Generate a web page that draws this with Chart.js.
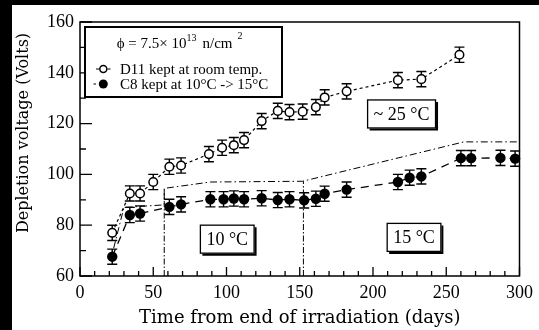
<!DOCTYPE html>
<html>
<head>
<meta charset="utf-8">
<script src="https://cdn.jsdelivr.net/npm/chart.js@4.4.0/dist/chart.umd.min.js"></script>
<style>
  html, body { margin: 0; padding: 0; background: #000; }
  #wrap { position: absolute; left: 12px; top: 5px; width: 527px; height: 325px; background: #fff; }
</style>
</head>
<body>
<div id="wrap"><canvas id="chart"></canvas></div>
<script>
// D11, kept at room temperature (open circles)
const d11Days  = [22, 34, 41, 50, 61, 69, 88, 97, 105, 112, 124, 135, 143, 152, 161, 167, 182, 217, 233, 259];
const d11Volts = [77, 92.5, 92.5, 97, 103, 103.5, 108, 110.5, 111.5, 113.5, 121, 125, 124.5, 124.7, 126.5, 130.3, 132.7, 137.1, 137.5, 147.1];
const d11Err   = [3, 3, 3, 3, 3, 3, 3, 3, 3, 3, 3, 3, 3, 3, 3, 3, 3, 3, 3, 3];

// C8, kept at 10°C then 15°C (filled circles)
const c8Days  = [22, 34, 41, 61, 69, 89, 98, 105, 112, 124, 135, 143, 153, 161, 167, 182, 217, 225, 233, 260, 267, 287, 297];
const c8Volts = [67.6, 84, 84.6, 87.2, 88.2, 90.2, 90.2, 90.5, 90.2, 90.6, 89.9, 90.2, 89.8, 90.4, 92.4, 94, 97, 98.7, 99.2, 106.4, 106.4, 106.5, 106.2];
const c8Err   = [3, 3, 3, 3, 3, 3, 3, 3, 3, 3, 3, 3, 3, 3, 3, 3, 3, 3, 3, 3, 3, 3, 3];

// dash-dot model curve and the two temperature-change markers
const modelDays  = [23, 30, 57.5, 57.5, 89, 152, 262, 300];
const modelVolts = [71, 87, 88, 94.5, 97, 97.3, 112.8, 112.8];
const change1Days  = [57.5, 57.5];
const change1Volts = [60, 94.5];
const change2Days  = [152.5, 152.5];
const change2Volts = [60, 97.3];

const xTicks = [0, 50, 100, 150, 200, 250, 300];
const yTicks = [60, 80, 100, 120, 140, 160];

const notes = [
    { text: '10 °C', x: 100.5, y: 74.5 },
    { text: '15 °C', x: 228, y: 75.2 },
    { text: '~ 25 °C', x: 219.5, y: 123.8 },
];

const pts = (xs, ys) => xs.map((x, i) => ({ x, y: ys[i] }));

const SERIF = "'Liberation Serif', serif";
const TITLE = "'DejaVu Serif', serif";

const decor = {
    id: 'decor',
    beforeDatasetsDraw(chart) {
        // error bars under the markers
        const { ctx } = chart;
        const y = chart.scales.y;
        const errs = { 3: d11Err, 4: c8Err };
        ctx.save();
        ctx.strokeStyle = '#000';
        ctx.lineWidth = 1.4;
        Object.keys(errs).forEach((i) => {
            const ds = chart.data.datasets[i];
            chart.getDatasetMeta(i).data.forEach((el, j) => {
                const v = ds.data[j].y;
                const top = y.getPixelForValue(v + errs[i][j]);
                const bot = y.getPixelForValue(v - errs[i][j]);
                ctx.beginPath();
                ctx.moveTo(el.x, top); ctx.lineTo(el.x, bot);
                ctx.moveTo(el.x - 5, top); ctx.lineTo(el.x + 5, top);
                ctx.moveTo(el.x - 5, bot); ctx.lineTo(el.x + 5, bot);
                ctx.stroke();
            });
        });
        ctx.restore();
    },
    afterDraw(chart) {
        const { ctx, chartArea: a } = chart;
        const xs = chart.scales.x, ys = chart.scales.y;
        ctx.save();
        ctx.strokeStyle = '#000';
        ctx.lineWidth = 1.5;
        ctx.strokeRect(a.left, a.top, a.right - a.left, a.bottom - a.top);

        // inward ticks
        ctx.lineWidth = 1.3;
        ctx.beginPath();
        for (let d = 0; d <= 300; d += 10) {
            const px = xs.getPixelForValue(d);
            const len = d % 50 === 0 ? 9 : 5;
            ctx.moveTo(px, a.bottom); ctx.lineTo(px, a.bottom - len);
        }
        for (let v = 60; v <= 160; v += 10) {
            const py = ys.getPixelForValue(v);
            const len = v % 20 === 0 ? 12 : 6;
            ctx.moveTo(a.left, py); ctx.lineTo(a.left + len, py);
        }
        ctx.stroke();

        // y title, centred a little above the plot middle like the original
        ctx.save();
        ctx.translate(12, 128);
        ctx.rotate(-Math.PI / 2);
        ctx.font = '16px ' + TITLE;
        ctx.fillStyle = '#000';
        ctx.textAlign = 'center';
        ctx.textBaseline = 'middle';
        ctx.fillText('Depletion voltage (Volts)', 0, 0);
        ctx.restore();

        // temperature boxes
        ctx.font = '18px ' + SERIF;
        ctx.textBaseline = 'middle';
        ctx.textAlign = 'center';
        notes.forEach((n) => {
            const cx = xs.getPixelForValue(n.x), cy = ys.getPixelForValue(n.y);
            const w = ctx.measureText(n.text).width + 12, h = 28;
            ctx.fillStyle = '#fff';
            ctx.fillRect(cx - w / 2, cy - h / 2, w, h);
            ctx.lineWidth = 1.3;
            ctx.strokeRect(cx - w / 2, cy - h / 2, w, h);
            ctx.lineWidth = 2;
            ctx.beginPath();
            ctx.moveTo(cx - w / 2 + 2, cy + h / 2 + 1.5); ctx.lineTo(cx + w / 2 + 1.5, cy + h / 2 + 1.5);
            ctx.lineTo(cx + w / 2 + 1.5, cy - h / 2 + 2);
            ctx.stroke();
            ctx.fillStyle = '#000';
            ctx.fillText(n.text, cx, cy + 1);
        });

        // legend box
        const lx = a.left + 5, ly = a.top + 5;
        ctx.fillStyle = '#fff';
        ctx.fillRect(lx, ly, 197, 70);
        ctx.lineWidth = 2;
        ctx.strokeRect(lx, ly, 197, 70);
        ctx.fillStyle = '#000';
        ctx.textAlign = 'left';
        ctx.textBaseline = 'alphabetic';

        let tx = a.left + 36.7;
        const base = a.top + 26;
        const piece = (s, size, dy, gap) => {
            ctx.font = size + 'px ' + SERIF;
            ctx.fillText(s, tx, base + dy);
            tx += ctx.measureText(s).width + gap;
        };
        piece('\u03D5 = 7.5\u00D7 10', 15, 0, 0);
        piece('13', 10, -7, 6);
        piece('n/cm', 15, 0, 5);
        piece('2', 10, -9, 0);

        ctx.font = '15px ' + SERIF;
        ctx.fillText('D11 kept at room temp.', a.left + 40, a.top + 52);
        ctx.fillText('C8 kept at 10°C -> 15°C', a.left + 40, a.top + 66.5);

        ctx.lineWidth = 1.2;
        ctx.beginPath();
        ctx.moveTo(a.left + 16, a.top + 47); ctx.lineTo(a.left + 19, a.top + 47);
        ctx.moveTo(a.left + 27.5, a.top + 47); ctx.lineTo(a.left + 30.5, a.top + 47);
        ctx.moveTo(a.left + 13.5, a.top + 62); ctx.lineTo(a.left + 16, a.top + 62);
        ctx.stroke();
        ctx.lineWidth = 1.5;
        ctx.beginPath();
        ctx.arc(a.left + 23.3, a.top + 47, 3.5, 0, Math.PI * 2);
        ctx.stroke();
        ctx.beginPath();
        ctx.arc(a.left + 23.3, a.top + 62, 4.5, 0, Math.PI * 2);
        ctx.fill();
        ctx.restore();
    }
};

new Chart(document.getElementById('chart'), {
    type: 'scatter',
    data: {
        datasets: [
            { data: pts(modelDays, modelVolts), showLine: true, borderColor: '#000', borderWidth: 1, borderDash: [7, 3, 1.5, 3], pointRadius: 0 },
            { data: pts(change1Days, change1Volts), showLine: true, borderColor: '#000', borderWidth: 1, borderDash: [6, 2, 1.5, 2], pointRadius: 0 },
            { data: pts(change2Days, change2Volts), showLine: true, borderColor: '#000', borderWidth: 1, borderDash: [6, 2, 1.5, 2], pointRadius: 0 },
            {
                label: 'D11 kept at room temp.',
                data: pts(d11Days, d11Volts), showLine: true,
                borderColor: '#000', borderWidth: 1.2, borderDash: [3, 3],
                pointRadius: 4.3, pointBorderWidth: 1.5, pointBorderColor: '#000', pointBackgroundColor: '#fff',
                clip: 10,
            },
            {
                label: 'C8 kept at 10°C -> 15°C',
                data: pts(c8Days, c8Volts), showLine: true,
                borderColor: '#000', borderWidth: 1.3, borderDash: [8, 6],
                pointRadius: 5.2, pointBorderWidth: 0, pointBackgroundColor: '#000',
                clip: 10,
            },
        ]
    },
    options: {
        responsive: true,
        maintainAspectRatio: false,
        animation: false,
        layout: { padding: { top: 17, right: 12, left: 0, bottom: 0 } },
        plugins: { legend: { display: false }, tooltip: { enabled: false } },
        scales: {
            x: {
                type: 'linear', min: 0, max: 300,
                afterBuildTicks: (s) => { s.ticks = xTicks.map(v => ({ value: v })); },
                afterFit: (s) => { s.height = 54; },
                ticks: { color: '#000', font: { family: SERIF, size: 18 }, padding: 6, maxRotation: 0 },
                grid: { display: false, drawTicks: false },
                border: { display: false },
                title: { display: true, text: 'Time from end of irradiation (days)', color: '#000', font: { family: TITLE, size: 18 }, padding: { top: 0, bottom: 1 } },
            },
            y: {
                min: 60, max: 160,
                afterBuildTicks: (s) => { s.ticks = yTicks.map(v => ({ value: v })); },
                afterFit: (s) => { s.width = 68; },
                ticks: { color: '#000', font: { family: SERIF, size: 18 }, padding: 6 },
                grid: { display: false, drawTicks: false },
                border: { display: false },
                title: { display: false },
            }
        }
    },
    plugins: [decor]
});
</script>
</body>
</html>
